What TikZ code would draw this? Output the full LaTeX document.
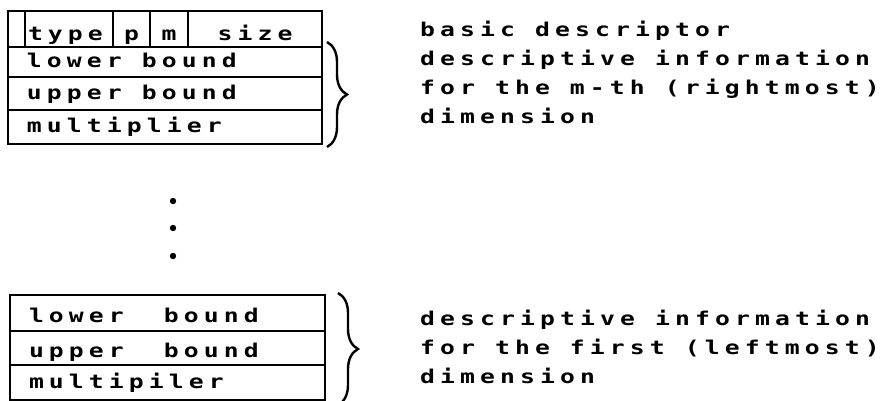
\documentclass[tikz,border=0pt]{standalone}
\usepackage{fontspec}
\newfontfamily\gothic{DejaVu Sans Mono Bold}[FakeStretch=1.3,LetterSpace=27]
\usetikzlibrary{positioning,decorations.pathreplacing}

\tikzset{
  gothictext/.style={font={\gothic\fontsize{19}{29}\selectfont}},
  cell/.style={draw,line width=2.2pt,outer sep=0pt,inner ysep=0pt,
    inner xsep=3pt,minimum height=36pt,text height=24pt,text depth=2pt,
    gothictext},
  rowbox/.style={draw,line width=2.2pt,outer sep=0pt,inner ysep=0pt,
    inner xsep=19pt,text width=276pt,align=flush left,anchor=north west,
    text height=14pt,text depth=3pt,gothictext},
  low/.style={text height=19pt,text depth=1pt},
  brace/.style={decorate,decoration={brace,amplitude=20pt},line width=2.4pt}
}

\begin{document}
\begin{tikzpicture}[x=1pt,y=-1pt]
  \useasboundingbox (0,0) rectangle (885,400);

  % basic descriptor
  \node[cell,minimum width=17pt,anchor=north west] (blank) at (8,11) {};
  \node[cell,right=0pt of blank,text width=82pt,align=flush left] (type) {type};
  \node[cell,right=0pt of type,minimum width=37pt] (p) {p};
  \node[cell,right=0pt of p,minimum width=38pt] (m) {m};
  \node[cell,right=0pt of m,minimum width=134pt] (size) {size};

  % m-th dimension
  \node[rowbox,minimum height=30pt] (lowerM) at (blank.south west) {lower bound};
  \node[rowbox,minimum height=33pt] (upperM) at (lowerM.south west) {upper bound};
  \node[rowbox,minimum height=34pt] (multM) at (upperM.south west) {multiplier};

  \foreach \y in {201,228,256}
    \fill (173,\y) circle (3.2pt);

  % first dimension
  \node[rowbox,low,text width=277pt,minimum height=36pt] (lowerF) at (10,295) {lower\ \ bound};
  \node[rowbox,low,text width=277pt,minimum height=34pt] (upperF) at (lowerF.south west) {upper\ \ bound};
  \node[rowbox,text width=277pt,minimum height=35pt] (multF) at (upperF.south west) {multipiler};

  \draw[brace] ([xshift=5pt,yshift=5pt]lowerM.north east) -- ([xshift=5pt,yshift=-3pt]multM.south east);
  \draw[brace] ([xshift=13pt,yshift=2pt]lowerF.north east) -- ([xshift=13pt,yshift=-5pt]multF.south east);

  \node[gothictext,inner sep=0pt,align=left,anchor=north west] (topnote) at (420,21)
    {basic descriptor\\descriptive information\\for the m-th (rightmost)\\dimension};
  \node[gothictext,inner sep=0pt,align=left,anchor=north west] (lownote) at (420,310)
    {descriptive information\\for the first (leftmost)\\dimension};
\end{tikzpicture}
\end{document}
